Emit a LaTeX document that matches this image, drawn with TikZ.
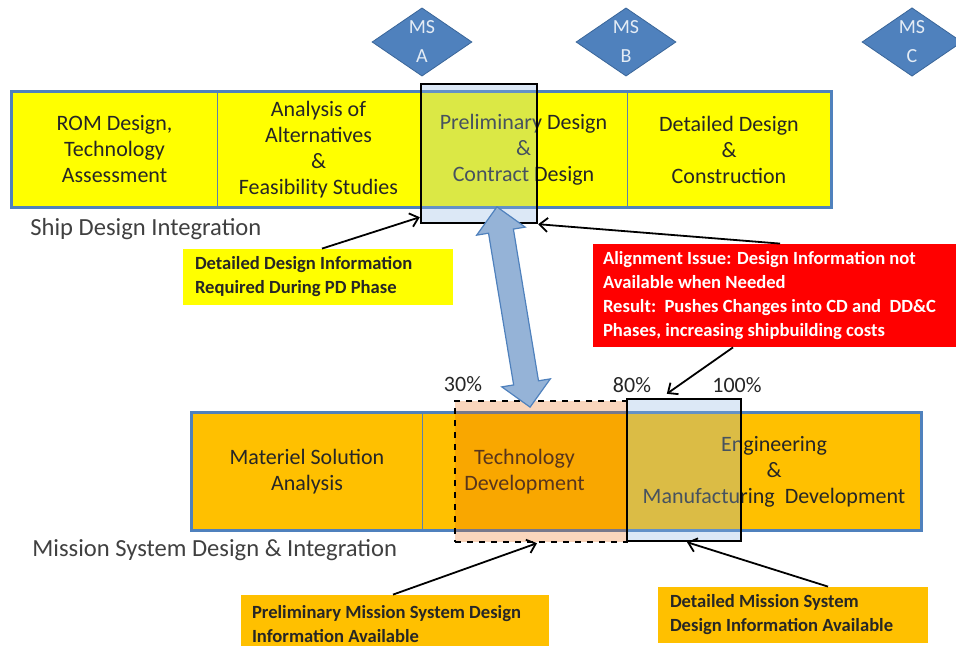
\documentclass[tikz,border=0pt]{standalone}
\usepackage{fontspec}
\setmainfont{Carlito}
\usepackage{tikz}
\usetikzlibrary{arrows.meta,shapes.geometric,shapes.arrows,calc}

\definecolor{msblue}{HTML}{4F81BD}
\definecolor{msline}{HTML}{3A6699}
\definecolor{shipyellow}{HTML}{FFFF00}
\definecolor{missionorange}{HTML}{FFC000}
\definecolor{alertred}{HTML}{FF0000}
\definecolor{focusblue}{HTML}{8EB5E1}
\definecolor{tdsalmon}{HTML}{EB6200}
\definecolor{darktext}{HTML}{262626}
\definecolor{graytext}{HTML}{404040}
\definecolor{arrowfill}{HTML}{95B3D7}

\tikzstyle{milestone}=[shape=diamond, fill=msblue, draw=msline, line width=0.4pt, minimum width=50pt, minimum height=34pt, inner sep=0pt, text=white!85!msblue, font=\fontsize{10}{14.5}\selectfont, align=center]
\tikzstyle{shipcell}=[shape=rectangle, fill=shipyellow, draw=msblue!70!gray, line width=0.4pt, minimum height=57.5pt, inner sep=0pt, text=darktext, font=\fontsize{11}{13}\selectfont, align=center]
\tikzstyle{missioncell}=[shipcell, fill=missionorange, minimum height=58.5pt]
\tikzstyle{focus}=[shape=rectangle, draw=black, line width=1.2pt, fill=focusblue, fill opacity=0.31, inner sep=0pt]
\tikzstyle{techfocus}=[focus, dashed, fill=tdsalmon, fill opacity=0.26]
\tikzstyle{note}=[shape=rectangle, inner ysep=0pt, text=darktext, font=\bfseries\fontsize{9.3}{12}\selectfont, align=flush left]
\tikzstyle{pointer}=[draw=black, line width=0.9pt, -{Straight Barb[length=4pt,width=7pt]}]
\tikzstyle{link}=[shape=double arrow, fill=arrowfill, draw=msblue, line width=0.6pt, inner xsep=0pt, inner ysep=6pt, double arrow head extend=6pt]
\tikzstyle{percent}=[text=darktext, font=\fontsize{11}{13}\selectfont]
\tikzstyle{phase}=[anchor=base west, inner sep=0pt, text=graytext, font=\fontsize{12.3}{14}\selectfont]

\begin{document}
\begin{tikzpicture}[x=0.5pt,y=-0.5pt]
\useasboundingbox (0,0) rectangle (956,646);
\node[milestone] (msa) at (422,42) {MS\\A};
\node[milestone] (msb) at (626,42) {MS\\B};
\node[milestone] (msc) at (912,42) {MS\\C};
\node[shipcell, minimum width=102.5pt] (s1) at (114.5,149.5) {ROM Design,\\Technology\\Assessment};
\node[shipcell, minimum width=101.5pt] (s2) at (318.5,149.5) {Analysis of\\Alternatives\\\&\\Feasibility Studies};
\node[shipcell, minimum width=103.5pt] (s3) at (523.5,149.5) {Preliminary Design\\\&\\Contract Design};
\node[shipcell, minimum width=102pt] (s4) at (729,149.5) {Detailed Design\\\&\\Construction};
\draw[draw=msblue, line width=1.2pt] (s1.north west) rectangle (s4.south east);
\node[missioncell, minimum width=115pt] (m1) at (307,471.5) {Materiel Solution\\Analysis};
\node[missioncell, minimum width=102.5pt] (m2) at (524.5,471.5) {Technology\\Development};
\node[missioncell, minimum width=147pt] (m3) at (774,471.5) {Engineering\\\&\\Manufacturing\ \ Development};
\draw[draw=msblue, line width=1.2pt] (m1.north west) rectangle (m3.south east);
\node[focus, minimum width=58pt, minimum height=69.5pt] (pdfocus) at (479,153.5) {};
\node[techfocus, minimum width=86pt, minimum height=70.5pt] (techfocus) at (541,471.5) {};
\node[focus, minimum width=57pt, minimum height=71pt] (emdfocus) at (684,470) {};
\node[link, rotate=-80.6, minimum height=101.5pt] (sync) at (513.5,307) {};
\node[phase] (ship) at (30,235) {Ship Design Integration};
\node[phase] (mission) at (32,556) {Mission System Design \& Integration};
\node[percent] (p30) at (463,384) {30\%};
\node[percent] (p80) at (632,385) {80\%};
\node[percent] (p100) at (737,385) {100\%};
\node[note, fill=shipyellow, inner xsep=6pt, text width=123pt, minimum height=28pt] (need) at (318,277) {Detailed Design Information\\Required During PD Phase};
\node[note, fill=alertred, text=white, inner xsep=5pt, text width=180pt, minimum height=51.5pt] (issue) at (783,295.5) {Alignment Issue: Design Information not\\Available when Needed\\Result:\ \ Pushes Changes into CD and\ \ DD\&C\\Phases, increasing shipbuilding costs};
\node[note, fill=missionorange, inner xsep=5.5pt, text width=143pt, minimum height=29pt] (prelim) at (395,624) {Preliminary Mission System Design\\Information Available};
\node[note, fill=missionorange, inner xsep=6pt, text width=123pt, minimum height=28pt] (detail) at (793,615) {Detailed Mission System\\Design Information Available};
\draw[pointer] ([xshift=2pt]need.north) -- ([yshift=3.5pt]pdfocus.south west);
\draw[pointer] ([xshift=-1.5pt]issue.north) -- (pdfocus.south east);
\draw[pointer] ([xshift=-25pt]issue.south) -- ([xshift=20.5pt,yshift=2pt]emdfocus.north west);
\draw[pointer] ([xshift=-1pt]prelim.north) -- ([xshift=-2pt]techfocus.south);
\draw[pointer] ([xshift=17.5pt]detail.north) -- ([xshift=1.5pt]emdfocus.south);
\end{tikzpicture}
\end{document}
